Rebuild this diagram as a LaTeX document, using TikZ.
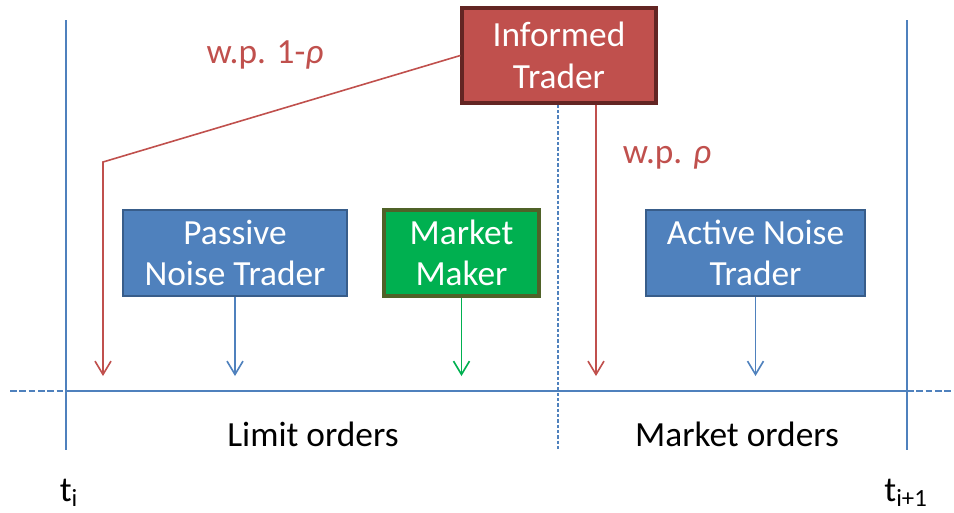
\documentclass[tikz,border=0pt]{standalone}
\usepackage{fontspec}
\setmainfont{Carlito}
\usetikzlibrary{arrows.meta}

\definecolor{tradered}{RGB}{192,80,77}
\definecolor{traderedline}{RGB}{99,37,35}
\definecolor{noiseblue}{RGB}{79,129,189}
\definecolor{noiseblueline}{RGB}{56,93,138}
\definecolor{makergreen}{RGB}{0,176,80}
\definecolor{makergreenline}{RGB}{79,98,40}

\tikzset{
    box/.style={rectangle, text=white, align=center, font=\fontsize{26.5}{31}\selectfont,
        minimum height=64.5pt, inner sep=0pt},
    order/.style={-{Straight Barb[length=10pt,width=12pt]}, line width=1.2pt},
    timeline/.style={noiseblue, line width=1.4pt},
    caption/.style={font=\fontsize{26.5}{31}\selectfont}
}

\begin{document}
\begin{tikzpicture}[x=0.75pt,y=-0.75pt]

    \useasboundingbox (0,0) rectangle (954,512);

    % time axis
    \draw[timeline] (66,20) -- (66,450);
    \draw[timeline] (907,20) -- (907,450);
    \draw[timeline] (66,391) -- (907,391);
    \draw[timeline, dash pattern=on 5pt off 2pt, line width=1pt] (10,391) -- (66,391);
    \draw[timeline, dash pattern=on 5pt off 2pt, line width=1pt] (907,391) -- (954,391);

    % traders
    \node[box, fill=tradered, draw=traderedline, line width=2.5pt,
        minimum width=145.5pt, minimum height=71.25pt] (informed) at (559,55.5) {Informed\\Trader};
    \node[box, fill=noiseblue, draw=noiseblueline, line width=1.6pt,
        minimum width=168pt] (passive) at (235,253) {Passive\\Noise Trader};
    \node[box, fill=makergreen, draw=makergreenline, line width=2.5pt,
        minimum width=116.25pt] (maker) at (461.5,253) {Market\\Maker};
    \node[box, fill=noiseblue, draw=noiseblueline, line width=1.6pt,
        minimum width=164.25pt] (active) at (755.5,253) {Active Noise\\Trader};

    \draw[timeline, dash pattern=on 2.5pt off 1.5pt, line width=1pt] (informed.south -| 558,0) -- (558,450);

    % order flow
    \coordinate (base) at (0,376);
    \coordinate (bend) at (103,162);
    \coordinate (limit) at (103,376);
    \coordinate (market) at (596,376);

    \draw[order, tradered] (informed.west) -- (bend) -- (limit);
    \draw[order, tradered] (informed.south -| market) -- (market);
    \draw[order, noiseblue] (passive.south) -- (passive.south |- base);
    \draw[order, makergreen] (maker.south) -- (maker.south |- base);
    \draw[order, noiseblue] (active.south) -- (active.south |- base);

    % labels
    \node[caption, text=tradered] (wplim) at (265,55) {w.p. 1-\textit{ρ}};
    \node[caption, text=tradered] (wpmkt) at (667,158) {w.p. \textit{ρ}};
    \node[caption] (limlab) at (313,434) {Limit orders};
    \node[caption] (mktlab) at (737,434) {Market orders};
    \node[caption] (ti) at (69,493) {t\textsubscript{i}};
    \node[caption] (tnext) at (906,493) {t\textsubscript{i+1}};

\end{tikzpicture}
\end{document}
